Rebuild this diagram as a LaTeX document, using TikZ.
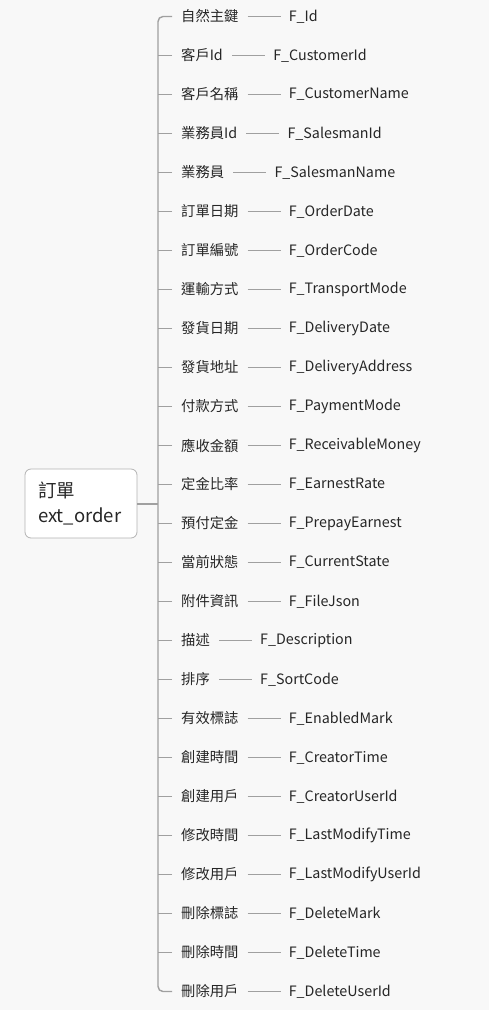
\documentclass[tikz,border=0pt]{standalone}
\usepackage{fontspec}
\setmainfont{Noto Sans CJK TC}
\usepackage{xcolor}
\usetikzlibrary{positioning}
\definecolor{bgcol}{HTML}{F8F8F8}
\definecolor{txtcol}{HTML}{262626}
\definecolor{lncol}{HTML}{A0A0A0}

\begin{document}
\begin{tikzpicture}[x=1pt, y=-1pt,
		lbl/.style={anchor=west, inner xsep=9pt, inner ysep=2pt, text=txtcol, font=\fontsize{14.3}{16}\selectfont},
		fld/.style={inner xsep=8pt, inner ysep=2pt, text=txtcol, font=\fontsize{14.3}{16}\selectfont},
		link/.style={draw=lncol, line width=0.9pt}]
		\fill[bgcol] (0,0) rectangle (489,1010);

		% root
		\node[draw=lncol!80, fill=white, rounded corners=6pt, line width=0.8pt, minimum width=112pt, minimum height=69pt,
			text width=86pt, align=left, text=txtcol, font=\fontsize{18.5}{25}\selectfont] (root) at (81,503.5) {訂單\\ext\_order};

		% fields
		\foreach \lb/\fd [count=\i] in {自然主鍵/F\_Id, 客戶Id/F\_CustomerId, 客戶名稱/F\_CustomerName,
			業務員Id/F\_SalesmanId, 業務員/F\_SalesmanName, 訂單日期/F\_OrderDate, 訂單編號/F\_OrderCode,
			運輸方式/F\_TransportMode, 發貨日期/F\_DeliveryDate, 發貨地址/F\_DeliveryAddress,
			付款方式/F\_PaymentMode, 應收金額/F\_ReceivableMoney, 定金比率/F\_EarnestRate,
			預付定金/F\_PrepayEarnest, 當前狀態/F\_CurrentState, 附件資訊/F\_FileJson,
			描述/F\_Description, 排序/F\_SortCode, 有效標誌/F\_EnabledMark, 創建時間/F\_CreatorTime,
			創建用戶/F\_CreatorUserId, 修改時間/F\_LastModifyTime, 修改用戶/F\_LastModifyUserId,
			刪除標誌/F\_DeleteMark, 刪除時間/F\_DeleteTime, 刪除用戶/F\_DeleteUserId} {
			\node[lbl] (l\i) at (172,{16.5+(\i-1)*39}) {\lb};
			\node[fld, right=33pt of l\i] (f\i) {\fd};
			\draw[link] (l\i) -- (f\i);
		}

		% trunk
		\coordinate (tb) at (158,991.5);
		\draw[link, line width=1.4pt, rounded corners=5pt] (l1.west) -| (tb) -- (l26.west);
		\foreach \i in {2,...,25}
			\draw[link] (l\i.west) -- (l\i.west -| tb);
		\draw[link, line width=2pt] (root.east) -- (root.east -| tb);
	\end{tikzpicture}
\end{document}
